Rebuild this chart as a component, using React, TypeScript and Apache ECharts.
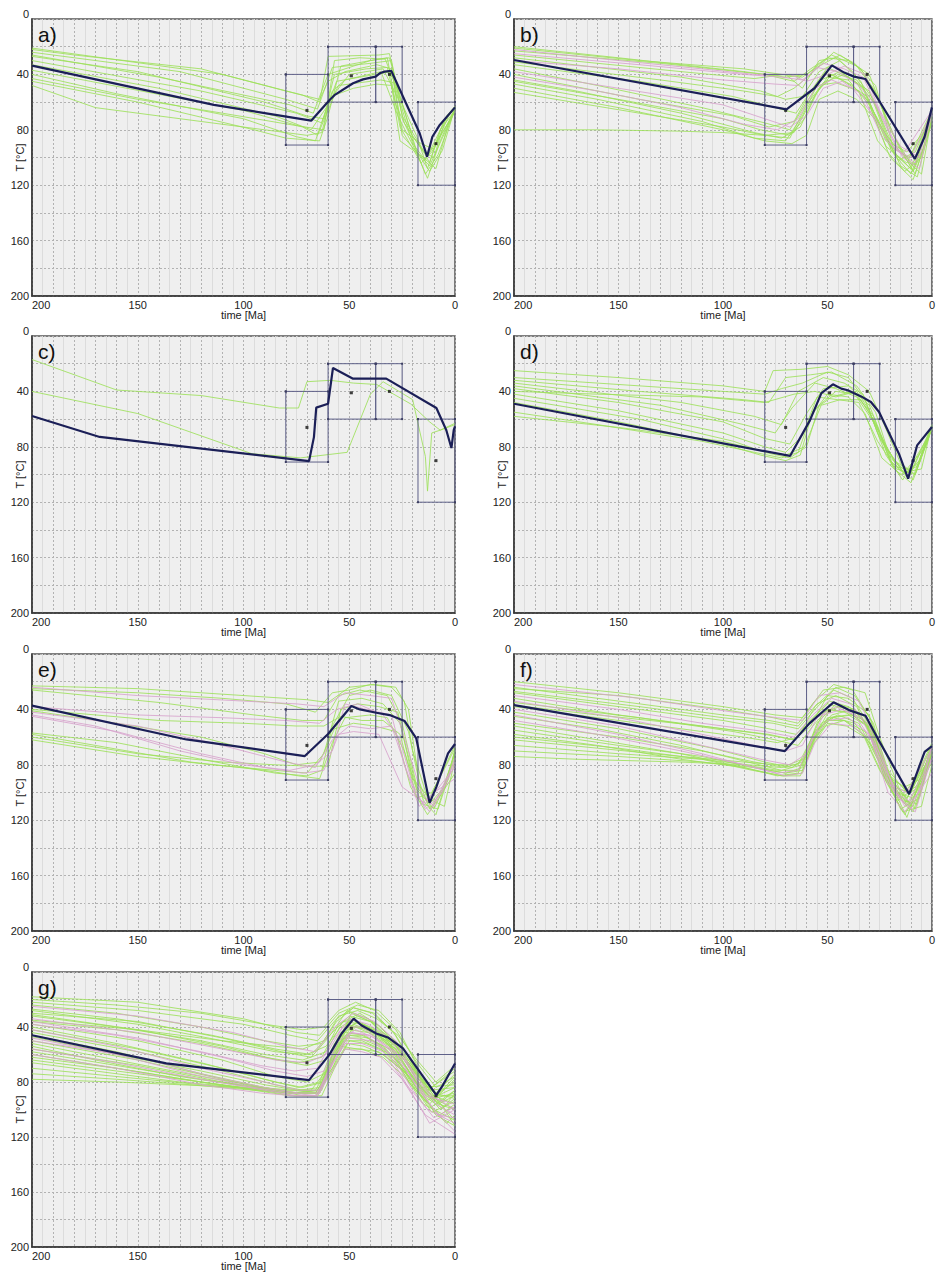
import React, { useEffect, useRef } from "react";
import * as echarts from "echarts";

type Path = number[][];

const FONT = "'Liberation Sans', Arial, sans-serif";
const PANEL_LABELS = ["a)", "b)", "c)", "d)", "e)", "f)", "g)"];
const X_LABELS = [0, 50, 100, 150, 200];
const Y_LABELS = [0, 40, 80, 120, 160, 200];

// constraint boxes: [tOld, tYoung, Tmin, Tmax]
const BOXES = [
  [80, 60, 40, 91],
  [60, 37.5, 20, 60],
  [37.5, 25, 20, 60],
  [17.5, 0, 60, 120],
];
const BOX_DOTS = [[70, 66], [49, 41], [31, 40], [9, 90]];

// best-fit (navy) paths
const BEST_A: Path = [[200,33.7],[114,62],[68,73.4],[59.3,58.5],[57,55],[48.2,46.4],[43.5,43.6],[37.5,41.6],[35.6,39.2],[33.3,38],[30.1,37.5],[16.7,82.5],[13.2,99.4],[10.7,85],[7.2,76.5],[0,63.8]];
const BEST_B: Path = [[200,29.6],[69.6,65.2],[56.2,50],[47.9,33.5],[42,38.7],[37.3,41.6],[31.8,43.3],[25.5,58.5],[8.2,101],[6.6,95.8],[3.5,85],[0,63.8]];
const BEST_C: Path = [[200,57.8],[168,72.9],[69,90.3],[66.7,73],[65.6,51.7],[60,48.9],[57.7,23.1],[48.2,30.8],[32.5,30.8],[8.8,52],[4.1,68.1],[1.7,80.9],[0.6,68],[0,65.2]];
const BEST_D: Path = [[200,48.9],[67.9,86.6],[58.4,60.9],[52.9,41.2],[47.4,34.9],[43.4,38],[40.3,39.2],[33.9,43.6],[29.2,47.7],[25.3,54.9],[15.8,85],[11.4,103],[7.1,79],[0,65.7]];
const BEST_E: Path = [[200,37.3],[127,61.7],[71,73.7],[60,57.8],[49,37.6],[45,40],[37.2,42.4],[30.9,44.1],[23.8,48.4],[18.3,61],[12,107.5],[8.8,95.9],[3.3,71.8],[0,65]];
const BEST_F: Path = [[200,36.9],[70.4,70.1],[58.6,50.1],[52.3,41.7],[47.1,34.9],[39.7,40.5],[31.8,44.6],[25.5,62.2],[10.9,101.2],[3.5,70.6],[0,66.5]];
const BEST_G: Path = [[200,46],[136.5,66.5],[69,78.6],[59.2,59.7],[53.6,44.7],[47.9,33.9],[44.3,38.7],[37.2,44.7],[31.7,47.6],[24.6,55.6],[8.8,89.5],[5.7,82.2],[0,66.5]];

// accepted (green) and good (pink) paths per panel
const GREEN_A: Path[] = [
  [[200,21],[110,40],[72,55],[64,60],[60,27],[36,26],[31,25],[26,58],[18,85],[13,108],[7,80],[0,66]],
  [[200,24],[130,38],[80,58],[65,65],[58,35],[40,32],[30,30],[25,70],[16,92],[12,104],[5,72],[0,64]],
  [[200,27],[150,38],[90,60],[70,70],[62,72],[57,40],[42,36],[32,35],[28,62],[20,88],[14,112],[8,98],[0,65]],
  [[200,30],[120,52],[75,68],[63,75],[56,45],[45,42],[30,38],[24,75],[15,96],[10,100],[4,70],[0,63]],
  [[200,33],[140,50],[85,70],[68,80],[60,62],[55,48],[35,44],[29,46],[25,84],[17,98],[12,106],[6,86],[0,66]],
  [[200,37],[100,66],[72,78],[65,84],[57,55],[48,50],[37,47],[30,48],[26,88],[15,100],[9,108],[3,75],[0,65]],
  [[200,40],[160,54],[100,72],[75,85],[66,88],[58,52],[52,44],[35,38],[27,70],[19,94],[13,115],[7,88],[0,64]],
  [[200,45],[150,60],[95,80],[80,86],[64,88],[60,70],[54,34],[40,30],[32,28],[26,78],[16,104],[11,96],[0,66]],
  [[200,48],[170,64],[120,74],[90,80],[70,84],[63,82],[59,58],[50,40],[34,36],[26,60],[20,90],[14,102],[5,74],[0,63]],
  [[200,26],[140,42],[78,62],[67,68],[60,40],[40,30],[31,28],[24,66],[18,96],[12,110],[6,95],[0,64]],
  [[200,43],[150,58],[110,68],[75,77],[62,80],[57,30],[45,28],[33,29],[27,52],[20,85],[13,99],[0,67]],
  [[200,22],[180,26],[120,36],[80,52],[64,58],[60,45],[52,38],[37,33],[30,36],[25,80],[16,90],[10,94],[3,70],[0,64]],
];
const PINK_A: Path[] = [];

const GREEN_B: Path[] = [
  [[200,20],[150,28],[90,38],[70,42],[60,40],[50,28],[40,30],[30,40],[20,80],[10,105],[4,95],[0,66]],
  [[200,23],[130,32],[80,40],[66,45],[58,36],[48,26],[36,34],[28,50],[18,85],[9,110],[3,90],[0,64]],
  [[200,28],[120,42],[82,52],[70,58],[62,56],[54,38],[44,30],[34,45],[25,78],[12,102],[5,112],[0,70]],
  [[200,33],[140,45],[95,56],[75,64],[65,68],[58,52],[50,35],[40,42],[30,52],[20,92],[11,100],[3,80],[0,64]],
  [[200,36],[160,48],[110,64],[80,75],[68,80],[60,60],[53,44],[44,38],[36,46],[26,72],[15,106],[7,114],[0,72]],
  [[200,44],[170,52],[120,68],[85,82],[72,86],[63,78],[56,55],[48,40],[38,48],[30,60],[19,96],[10,108],[0,67]],
  [[200,47],[160,58],[110,74],[85,86],[70,88],[62,70],[55,48],[46,46],[35,52],[26,88],[13,110],[5,100],[0,65]],
  [[200,50],[150,64],[100,80],[80,88],[67,90],[60,84],[54,58],[45,52],[36,58],[25,76],[16,102],[8,96],[0,68]],
  [[200,53],[140,68],[100,78],[80,84],[66,82],[58,60],[50,42],[40,44],[30,62],[20,100],[9,116],[0,75]],
  [[200,80],[160,80],[120,81],[100,82],[80,84],[68,86],[60,62],[52,46],[42,40],[33,50],[22,92],[12,104],[0,66]],
  [[200,26],[120,38],[85,43],[70,40],[62,50],[54,30],[46,28],[38,38],[28,58],[18,98],[10,112],[0,70]],
  [[200,40],[140,58],[95,70],[78,78],[66,74],[59,55],[51,38],[41,46],[31,56],[22,88],[12,96],[4,82],[0,65]],
  [[200,31],[130,44],[90,52],[74,56],[66,50],[58,40],[47,24],[37,32],[27,48],[19,90],[8,106],[0,66]],
  [[200,21],[140,30],[90,36],[72,40],[62,42],[54,34],[44,26],[34,36],[26,56],[16,92],[8,112],[0,72]],
  [[200,45],[150,58],[100,72],[82,80],[68,84],[61,72],[54,50],[45,40],[36,44],[27,62],[17,98],[9,110],[0,68]],
];
const PINK_B: Path[] = [
  [[200,25],[140,33],[90,40],[72,42],[62,44],[52,32],[42,36],[33,42],[24,70],[14,100],[6,108],[0,68]],
  [[200,30],[150,36],[100,44],[75,47],[64,48],[55,35],[45,38],[35,48],[27,62],[16,96],[8,104],[0,65]],
  [[200,38],[150,50],[100,62],[80,72],[68,78],[60,70],[52,50],[43,45],[33,55],[24,85],[14,98],[0,66]],
  [[200,22],[150,30],[110,36],[85,40],[68,40],[60,45],[50,40],[42,34],[32,40],[25,66],[15,92],[6,100],[0,64]],
  [[200,42],[160,52],[120,64],[90,76],[74,80],[64,72],[56,50],[48,44],[38,50],[28,70],[18,94],[10,100],[0,67]],
];

const GREEN_C: Path[] = [
  [[200,17],[160,39],[120,43],[83,52],[74,52],[70,33],[59,32],[48,34],[37,35],[21,49],[12,62],[7,68],[0,63]],
  [[200,40],[150,56],[96,85],[73,88],[51,84],[40,42],[34,33],[20,46],[14,87],[13,112],[11,70],[7,68],[0,64]],
];
const PINK_C: Path[] = [];

const GREEN_D: Path[] = [
  [[200,25],[150,30],[100,36],[80,40],[76,25],[62,24],[50,22],[40,28],[30,40],[24,60],[15,92],[8,100],[0,66]],
  [[200,32],[140,40],[90,46],[78,48],[70,30],[58,28],[48,26],[36,36],[27,55],[20,88],[12,98],[5,96],[0,64]],
  [[200,34],[120,48],[85,58],[72,64],[64,40],[52,30],[42,34],[33,42],[26,70],[16,96],[9,104],[0,66]],
  [[200,36],[130,50],[90,64],[75,70],[67,52],[56,34],[46,38],[36,44],[28,62],[18,90],[10,98],[0,65]],
  [[200,38],[150,48],[100,62],[80,74],[68,78],[60,56],[52,38],[40,36],[30,50],[22,80],[13,100],[6,90],[0,64]],
  [[200,40],[160,42],[110,44],[80,48],[66,42],[56,40],[46,44],[36,40],[28,58],[20,90],[11,102],[0,66]],
  [[200,42],[150,54],[100,70],[80,80],[70,84],[62,72],[55,44],[45,46],[35,48],[26,76],[17,96],[8,100],[0,65]],
  [[200,45],[140,60],[95,76],[80,84],[68,88],[60,80],[54,50],[46,40],[36,42],[28,60],[19,94],[12,96],[3,80],[0,66]],
  [[200,48],[150,62],[100,78],[82,86],[70,90],[63,86],[57,54],[48,44],[38,40],[30,54],[22,86],[14,104],[0,68]],
  [[200,55],[160,64],[110,76],[85,84],[72,88],[64,84],[58,58],[50,42],[40,44],[32,56],[24,88],[15,100],[7,94],[0,65]],
  [[200,58],[150,66],[100,76],[84,82],[70,86],[61,80],[53,50],[44,46],[34,46],[26,66],[18,96],[10,106],[0,64]],
  [[200,30],[140,36],[100,40],[80,42],[72,38],[62,34],[50,26],[40,30],[32,46],[25,74],[14,98],[6,92],[0,67]],
];
const PINK_D: Path[] = [];

const GREEN_E: Path[] = [
  [[200,23],[150,25],[100,30],[70,33],[60,35],[50,24],[38,22],[28,24],[22,40],[17,92],[12,112],[6,98],[0,72]],
  [[200,26],[140,35],[95,44],[72,48],[62,48],[55,30],[45,26],[32,30],[25,50],[18,96],[12,108],[5,96],[0,70]],
  [[200,40],[140,48],[100,50],[75,52],[62,52],[54,45],[44,48],[34,48],[26,58],[18,104],[11,100],[4,80],[0,68]],
  [[200,57],[160,64],[120,76],[85,86],[70,88],[63,84],[58,52],[50,30],[40,26],[30,30],[22,56],[15,106],[9,116],[0,70]],
  [[200,60],[150,72],[110,78],[85,80],[68,81],[60,81],[54,40],[46,36],[36,38],[27,42],[20,90],[12,104],[0,66]],
  [[200,62],[150,74],[115,80],[85,84],[70,86],[62,72],[55,34],[44,32],[34,36],[26,50],[18,98],[10,112],[3,90],[0,68]],
  [[200,58],[170,66],[125,78],[90,84],[74,88],[64,90],[58,64],[52,46],[40,44],[32,46],[24,70],[16,108],[8,112],[0,74]],
  [[200,25],[150,28],[110,32],[80,36],[66,42],[58,28],[50,26],[40,22],[30,24],[24,34],[20,70],[13,104],[5,110],[0,76]],
  [[200,41],[160,50],[120,60],[90,72],[75,80],[64,78],[57,54],[48,50],[38,52],[28,56],[21,96],[13,116],[0,86]],
];
const PINK_E: Path[] = [
  [[200,24],[150,30],[100,34],[75,36],[62,38],[52,28],[40,30],[30,32],[24,60],[16,100],[10,110],[0,80]],
  [[200,38],[150,44],[110,46],[80,48],[64,50],[56,40],[46,36],[34,44],[26,62],[19,100],[12,114],[0,78]],
  [[200,42],[150,52],[110,66],[80,78],[66,82],[58,62],[50,52],[40,54],[30,52],[22,88],[14,112],[6,100],[0,75]],
  [[200,45],[160,56],[120,72],[90,82],[72,86],[62,84],[55,58],[48,56],[36,58],[25,96],[14,108],[0,82]],
  [[200,44],[170,52],[130,70],[100,80],[78,84],[66,80],[58,70],[52,36],[42,40],[30,44],[24,80],[17,110],[10,100],[0,90]],
];

const GREEN_F: Path[] = [
  [[200,20],[150,28],[100,38],[75,44],[62,46],[52,26],[42,24],[32,28],[25,60],[16,96],[10,110],[0,68]],
  [[200,24],[150,34],[100,44],[78,48],[64,52],[55,36],[46,30],[36,38],[26,70],[17,98],[9,114],[0,70]],
  [[200,27],[140,38],[100,46],[76,50],[64,54],[56,40],[47,26],[38,32],[28,56],[20,90],[12,104],[3,80],[0,66]],
  [[200,32],[150,44],[100,54],[78,58],[66,62],[58,48],[50,36],[40,40],[31,50],[23,80],[14,106],[7,108],[0,72]],
  [[200,35],[140,46],[95,56],[75,62],[64,66],[57,52],[50,40],[42,42],[32,48],[24,78],[15,100],[8,112],[0,70]],
  [[200,37],[160,44],[110,52],[80,58],[66,62],[58,52],[50,30],[40,32],[30,44],[22,88],[13,96],[5,90],[0,66]],
  [[200,42],[150,54],[105,68],[80,78],[67,82],[60,74],[53,50],[45,44],[35,50],[26,76],[17,100],[9,104],[0,68]],
  [[200,45],[160,54],[120,66],[88,78],[72,84],[62,80],[55,54],[47,46],[37,50],[28,68],[19,96],[11,108],[0,70]],
  [[200,52],[160,62],[120,72],[90,82],[74,88],[64,86],[58,64],[51,52],[42,48],[32,56],[24,82],[15,112],[6,104],[0,72]],
  [[200,55],[150,66],[110,74],[85,82],[70,86],[62,82],[56,58],[48,44],[38,40],[30,52],[22,90],[13,108],[0,66]],
  [[200,58],[160,66],[120,76],[90,82],[72,88],[63,88],[57,66],[50,50],[41,52],[32,60],[24,86],[16,104],[8,98],[0,68]],
  [[200,62],[160,68],[120,74],[90,78],[74,80],[64,80],[58,62],[52,42],[44,38],[34,44],[26,70],[17,100],[9,110],[0,70]],
  [[200,66],[150,72],[110,76],[88,80],[72,82],[62,76],[56,56],[48,46],[38,44],[29,54],[20,94],[11,112],[0,72]],
  [[200,70],[150,74],[110,78],[85,82],[70,86],[62,84],[56,62],[50,48],[42,48],[33,58],[25,84],[16,106],[0,74]],
  [[200,74],[170,76],[120,78],[90,80],[74,84],[64,84],[58,66],[50,46],[40,44],[31,52],[23,88],[14,114],[5,110],[0,80]],
  [[200,38],[160,46],[120,54],[90,60],[74,64],[64,60],[56,38],[46,24],[37,30],[28,50],[20,92],[12,118],[0,68]],
  [[200,25],[150,30],[100,40],[76,46],[64,50],[56,34],[47,22],[38,26],[29,48],[20,88],[11,100],[0,64]],
  [[200,50],[150,60],[110,70],[85,78],[70,82],[62,78],[55,50],[46,36],[37,40],[28,58],[19,96],[10,100],[0,66]],
  [[200,60],[150,68],[110,76],[86,84],[71,88],[62,86],[56,60],[49,40],[40,42],[31,52],[22,92],[13,116],[0,78]],
  [[200,28],[140,40],[100,48],[78,54],[65,58],[57,46],[49,34],[40,38],[31,46],[22,82],[12,100],[4,92],[0,68]],
];
const PINK_F: Path[] = [
  [[200,22],[140,32],[95,42],[74,46],[62,48],[54,30],[44,28],[35,34],[27,58],[18,100],[11,106],[4,86],[0,66]],
  [[200,30],[150,40],[110,50],[80,56],[66,60],[57,44],[48,32],[39,36],[30,52],[22,84],[13,110],[6,100],[0,68]],
  [[200,40],[150,52],[110,66],[82,76],[68,80],[60,72],[52,44],[43,40],[34,46],[25,72],[16,104],[8,114],[0,74]],
  [[200,48],[160,58],[120,70],[90,80],[74,86],[64,84],[57,60],[50,48],[40,46],[30,58],[21,94],[12,100],[0,68]],
  [[200,34],[150,46],[110,58],[85,66],[70,70],[62,66],[55,46],[46,38],[37,44],[28,64],[19,98],[10,112],[0,76]],
  [[200,44],[150,58],[110,72],[85,82],[70,88],[62,86],[56,64],[48,50],[38,52],[29,62],[21,100],[13,114],[0,86]],
];

const GREEN_G: Path[] = [
  [[200,18],[150,22],[100,34],[75,44],[64,46],[55,30],[46,24],[36,28],[26,44],[16,74],[8,90],[0,78]],
  [[200,22],[150,28],[100,38],[78,46],[65,50],[56,34],[48,26],[38,30],[28,46],[18,72],[10,88],[0,92]],
  [[200,27],[160,34],[115,46],[85,56],[68,60],[58,44],[50,32],[40,36],[30,52],[20,72],[11,84],[0,70]],
  [[200,30],[150,36],[110,48],[82,58],[68,62],[60,48],[51,28],[41,34],[31,48],[21,66],[12,86],[0,84]],
  [[200,32],[160,40],[120,50],[90,60],[72,64],[61,58],[53,36],[43,38],[33,50],[23,70],[13,92],[5,100],[0,112]],
  [[200,36],[160,42],[120,52],[90,62],[74,66],[63,62],[55,38],[45,30],[35,40],[25,60],[15,80],[6,94],[0,86]],
  [[200,38],[150,50],[110,64],[85,76],[70,80],[62,74],[54,46],[46,36],[36,44],[26,56],[16,84],[7,100],[0,92]],
  [[200,40],[160,52],[120,66],[90,78],[74,84],[64,80],[57,52],[48,38],[38,44],[28,58],[18,80],[8,96],[0,100]],
  [[200,44],[150,58],[110,72],[85,82],[72,86],[63,86],[56,58],[48,40],[38,42],[28,54],[19,76],[9,88],[0,74]],
  [[200,46],[160,58],[120,74],[90,84],[75,88],[64,88],[57,62],[50,46],[41,48],[31,56],[21,82],[11,98],[0,86]],
  [[200,50],[150,64],[110,78],[85,86],[72,90],[63,90],[57,70],[50,50],[42,52],[33,58],[23,74],[12,92],[0,80]],
  [[200,52],[160,64],[120,76],[90,84],[76,88],[64,86],[57,62],[50,34],[41,40],[31,52],[21,74],[11,90],[0,90]],
  [[200,54],[170,64],[130,76],[95,84],[78,88],[66,88],[58,70],[51,52],[43,54],[34,60],[24,72],[13,96],[4,110],[0,104]],
  [[200,58],[160,68],[120,78],[92,84],[76,86],[65,86],[58,64],[50,42],[41,44],[31,54],[21,80],[11,102],[0,94]],
  [[200,62],[160,70],[120,80],[90,86],[75,88],[64,88],[58,66],[52,46],[44,46],[34,54],[24,70],[14,88],[5,98],[0,88]],
  [[200,66],[170,72],[130,80],[100,84],[80,88],[66,88],[58,70],[52,50],[44,50],[35,56],[25,72],[15,96],[0,108]],
  [[200,70],[160,76],[120,82],[90,86],[75,88],[64,86],[58,62],[52,40],[43,40],[33,48],[23,66],[13,86],[0,72]],
  [[200,74],[160,78],[125,82],[95,86],[78,88],[66,86],[60,70],[53,48],[45,48],[36,54],[26,66],[16,90],[7,104],[0,96]],
  [[200,78],[160,80],[130,82],[100,84],[80,86],[68,86],[61,72],[54,54],[46,56],[36,58],[26,70],[16,84],[0,82]],
  [[200,20],[160,24],[120,30],[90,38],[72,42],[62,40],[55,28],[47,22],[38,28],[28,42],[18,66],[9,84],[0,76]],
  [[200,28],[150,38],[110,50],[85,58],[70,60],[61,54],[54,40],[46,32],[37,38],[27,52],[17,76],[8,94],[0,108]],
  [[200,35],[150,42],[110,50],[85,54],[72,56],[62,50],[55,32],[46,28],[37,34],[27,46],[18,64],[9,80],[0,68]],
  [[200,60],[160,70],[120,80],[95,86],[78,90],[66,90],[59,74],[52,56],[44,56],[34,62],[24,76],[14,94],[0,84]],
  [[200,24],[160,30],[120,40],[90,50],[74,54],[63,52],[56,36],[48,26],[39,30],[29,44],[19,70],[10,90],[0,96]],
  [[200,42],[150,56],[110,70],[85,80],[72,84],[62,80],[55,52],[47,40],[38,46],[28,56],[18,82],[9,104],[0,112]],
  [[200,56],[150,68],[110,80],[85,86],[73,88],[64,88],[58,60],[51,38],[42,42],[32,50],[22,76],[12,96],[0,76]],
  [[200,64],[160,72],[120,80],[92,86],[76,90],[65,90],[59,68],[52,44],[43,46],[33,56],[23,72],[12,90],[0,100]],
  [[200,47],[160,60],[120,72],[90,82],[74,86],[64,84],[57,56],[49,30],[40,36],[30,50],[20,70],[10,92],[0,88]],
  [[200,31],[150,42],[110,54],[84,64],[70,68],[61,64],[54,44],[46,36],[37,42],[27,54],[17,78],[8,96],[0,90]],
];
const PINK_G: Path[] = [
  [[200,25],[150,32],[105,44],[80,54],[66,58],[57,40],[48,30],[38,36],[28,50],[18,78],[9,96],[0,104]],
  [[200,34],[150,44],[110,56],[85,64],[70,66],[61,60],[53,40],[44,40],[34,52],[24,64],[14,90],[0,96]],
  [[200,42],[160,54],[120,70],[90,80],[74,86],[64,86],[57,60],[49,44],[40,46],[30,58],[20,78],[10,100],[0,116]],
  [[200,48],[160,60],[125,74],[95,84],[78,88],[65,90],[58,66],[50,48],[40,50],[30,60],[20,86],[10,106],[0,98]],
  [[200,56],[160,66],[120,78],[90,86],[75,90],[65,90],[58,72],[52,56],[44,58],[35,62],[25,78],[14,104],[0,118]],
  [[200,38],[160,46],[120,58],[92,68],[76,72],[65,70],[58,50],[50,34],[41,38],[31,48],[21,70],[11,90],[0,100]],
  [[200,50],[150,62],[115,76],[90,84],[74,88],[64,88],[57,64],[50,44],[42,46],[32,58],[22,84],[12,110],[0,100]],
  [[200,60],[160,70],[120,82],[92,88],[76,90],[66,90],[59,70],[52,52],[44,52],[34,58],[24,80],[13,100],[0,110]],
  [[200,36],[150,48],[110,62],[85,72],[70,76],[62,72],[55,50],[47,42],[38,48],[28,58],[18,84],[8,104],[0,106]],
];

const BESTS = [BEST_A, BEST_B, BEST_C, BEST_D, BEST_E, BEST_F, BEST_G];
const GREENS = [GREEN_A, GREEN_B, GREEN_C, GREEN_D, GREEN_E, GREEN_F, GREEN_G];
const PINKS = [PINK_A, PINK_B, PINK_C, PINK_D, PINK_E, PINK_F, PINK_G];

// layout
const COL_LEFT = [32, 514];
const ROW_TOP = [19, 336, 654, 972];
const PW = 423;
const PH = 277;

export default function App() {
  const ref = useRef<HTMLDivElement>(null);
  useEffect(() => {
    if (!ref.current) return;
    const chart = echarts.init(ref.current, undefined, { renderer: "svg" });
    const grid: any[] = [];
    const xAxis: any[] = [];
    const yAxis: any[] = [];
    const series: any[] = [];
    const graphic: any[] = [];
    PANEL_LABELS.forEach((lab, i) => {
      const left = COL_LEFT[i % 2];
      const top = ROW_TOP[Math.floor(i / 2)];
      grid.push({
        left, top, width: PW, height: PH, show: true,
        backgroundColor: "#efefef", borderColor: "#555", borderWidth: 1.5,
      });
      xAxis.push({
        type: "value", gridIndex: i, min: 0, max: 200, interval: 10, inverse: true,
        name: "time [Ma]", nameLocation: "middle", nameGap: 13, nameMoveOverlap: false,
        nameTextStyle: { fontSize: 11, color: "#222", fontFamily: FONT },
        axisLine: { show: true, onZero: false, lineStyle: { color: "#333", width: 1.5 } },
        axisTick: { show: false },
        axisLabel: {
          fontSize: 11, color: "#222", fontFamily: FONT, margin: 3,
          formatter: (v: number) => (X_LABELS.includes(v) ? String(v) : ""),
          alignMaxLabel: "left",
        },
        splitLine: { show: true, lineStyle: { color: "#b2b2b2", type: [2, 2], width: 1 } },
        minorTick: { show: false, splitNumber: 2 },
        minorSplitLine: { show: true, lineStyle: { color: "#dcdcdc", width: 1 } },
      });
      yAxis.push({
        type: "value", gridIndex: i, min: 0, max: 200, interval: 20, inverse: true,
        name: "T [°C]", nameLocation: "middle", nameGap: 7, nameMoveOverlap: false,
        nameTextStyle: { fontSize: 11, color: "#222", fontFamily: FONT },
        axisLine: { show: true, onZero: false, lineStyle: { color: "#333", width: 1.5 } },
        axisTick: { show: false },
        axisLabel: {
          fontSize: 11, color: "#222", fontFamily: FONT, margin: 3,
          formatter: (v: number) => (Y_LABELS.includes(v) ? String(v) : ""),
          verticalAlignMinLabel: "bottom",
        },
        splitLine: { show: true, lineStyle: { color: "#b2b2b2", type: [2, 2], width: 1 } },
      });
      GREENS[i].forEach((p) =>
        series.push({
          type: "line", xAxisIndex: i, yAxisIndex: i, data: p, showSymbol: false, silent: true, z: 2,
          lineStyle: { color: "#9ee05a", width: 1, opacity: 0.85 },
        })
      );
      PINKS[i].forEach((p) =>
        series.push({
          type: "line", xAxisIndex: i, yAxisIndex: i, data: p, showSymbol: false, silent: true, z: 2,
          lineStyle: { color: "#d7a2cc", width: 1, opacity: 0.85 },
        })
      );
      BOXES.forEach((b) =>
        series.push({
          type: "line", xAxisIndex: i, yAxisIndex: i, silent: true, z: 3,
          data: [[b[0], b[2]], [b[1], b[2]], [b[1], b[3]], [b[0], b[3]], [b[0], b[2]]],
          showSymbol: true, symbol: "rect", symbolSize: 2,
          itemStyle: { color: "#3c3e62" },
          lineStyle: { color: "#5e6088", width: 1 },
        })
      );
      series.push({
        type: "scatter", xAxisIndex: i, yAxisIndex: i, data: BOX_DOTS, silent: true, z: 4,
        symbol: "rect", symbolSize: 3, itemStyle: { color: "#111" },
      });
      series.push({
        type: "line", xAxisIndex: i, yAxisIndex: i, data: BESTS[i], showSymbol: false, silent: true, z: 5,
        lineStyle: { color: "#1b1f57", width: 2.2 },
      });
      graphic.push({
        type: "text", left: left + 6, top: top + 5, z: 10,
        style: { text: lab, fontSize: 21, fill: "#111", fontFamily: FONT },
      });
    });
    chart.setOption({ animation: false, grid, xAxis, yAxis, series, graphic });
    return () => chart.dispose();
  }, []);
  return (
    <div
      ref={ref}
      style={{ position: "absolute", left: 0, top: 0, width: 938, height: 1272, background: "#fff" }}
    />
  );
}
